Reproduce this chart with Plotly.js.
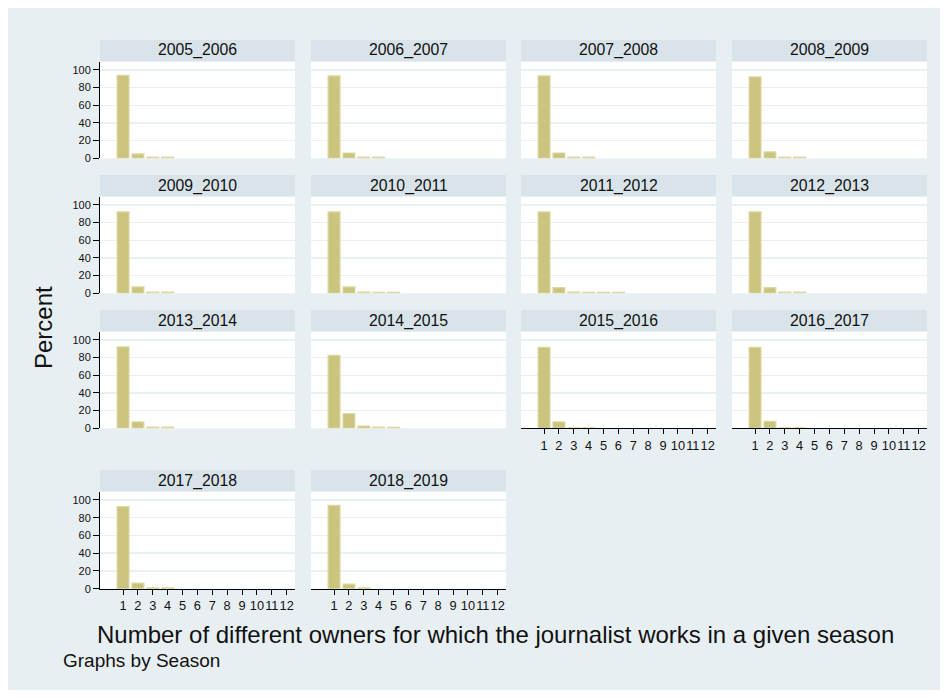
<!DOCTYPE html>
<html>
<head>
<meta charset="utf-8">
<script src="https://cdn.plot.ly/plotly-3.0.1.min.js"></script>
<style>
html,body{margin:0;padding:0;background:#ffffff;width:948px;height:698px;overflow:hidden;}
#chart{position:absolute;left:8px;top:8px;width:932px;height:682px;}
</style>
</head>
<body>
<div id="chart"></div>
<script>
// ---- data (percent of journalists by number of owners, per season) ----
const seasons = ['2005_2006','2006_2007','2007_2008','2008_2009',
                 '2009_2010','2010_2011','2011_2012','2012_2013',
                 '2013_2014','2014_2015','2015_2016','2016_2017',
                 '2017_2018','2018_2019'];
const owners = [1,2,3,4,5,6,7,8,9,10,11,12];
const ownerLabels = ['1','2','3','4','5','6','7','8','9','10','11','12'];
const yTicks = [0,20,40,60,80,100];

const pct_2005_2006 = [94.0, 4.9, 1.3, 1.3];
const pct_2006_2007 = [93.2, 6.0, 1.3, 1.3];
const pct_2007_2008 = [93.2, 6.0, 1.3, 1.3];
const pct_2008_2009 = [92.1, 7.2, 1.3, 1.3];
const pct_2009_2010 = [92.1, 7.2, 1.3, 1.3];
const pct_2010_2011 = [92.1, 7.2, 1.4, 1.2, 1.2];
const pct_2011_2012 = [92.1, 6.4, 1.3, 1.2, 1.2, 1.2];
const pct_2012_2013 = [92.1, 6.4, 1.3, 1.3];
const pct_2013_2014 = [92.1, 7.2, 1.3, 1.3];
const pct_2014_2015 = [82.5, 16.5, 2.6, 1.3, 1.2];
const pct_2015_2016 = [91.7, 7.2, 0.6, 0.6];
const pct_2016_2017 = [91.5, 8.0, 0.6, 0.6];
const pct_2017_2018 = [92.5, 6.3, 0.9, 0.9];
const pct_2018_2019 = [94.0, 5.2, 0.9];

const seriesList = [pct_2005_2006, pct_2006_2007, pct_2007_2008, pct_2008_2009,
                    pct_2009_2010, pct_2010_2011, pct_2011_2012, pct_2012_2013,
                    pct_2013_2014, pct_2014_2015, pct_2015_2016, pct_2016_2017,
                    pct_2017_2018, pct_2018_2019];

// ---- layout geometry (pixels in the 948x698 window) ----
const OX = 8, OY = 8, PW = 932, PH = 682;
const px = v => (v - OX) / PW;
const py = v => 1 - (v - OY) / PH;

const colX = [[100,295],[311,506],[521,716],[732,927]];
const rowY = [[62,158.3],[197,293.3],[332,428.3],[492,588.7]];
const headY = [[40,61],[175,196],[310,331],[470,491]];

const FONT = 'Liberation Sans, Arial, Helvetica, sans-serif';
const barFill = '#cbc47f';
const barLine = '#ddd7a2';
const gridCol = '#e9f0f2';
const bgCol = '#e8eff2';
const headCol = '#d9e4ea';

const traces = [];
const layout = {
  width: PW, height: PH,
  margin: {l:0, r:0, t:0, b:0, pad:0},
  paper_bgcolor: bgCol,
  plot_bgcolor: '#ffffff',
  showlegend: false,
  font: {family: FONT, color: '#111111'},
  shapes: [],
  annotations: [],
  bargap: 0
};

seasons.forEach((s, i) => {
  const r = Math.floor(i / 4), c = i % 4;
  const n = i + 1;
  const xa = 'x' + (n === 1 ? '' : n), ya = 'y' + (n === 1 ? '' : n);
  const vals = seriesList[i];
  traces.push({
    type: 'bar',
    x: owners.slice(0, vals.length),
    y: vals,
    width: 0.8,
    xaxis: xa, yaxis: ya,
    marker: {color: barFill, line: {color: barLine, width: 1.2}},
    hoverinfo: 'x+y'
  });
  const bottom = (c < 2 && r === 3) || (c >= 2 && r === 2);
  const left = c === 0;
  layout['xaxis' + (n === 1 ? '' : n)] = {
    domain: [px(colX[c][0]), px(colX[c][1])],
    anchor: ya,
    range: [-0.55, 12.56],
    tickmode: 'array', tickvals: owners, ticktext: ownerLabels,
    tickangle: 0,
    showticklabels: bottom,
    ticks: bottom ? 'outside' : '',
    ticklen: 5, tickwidth: 1, tickcolor: '#000000',
    showline: bottom, linecolor: '#000000', linewidth: 1,
    showgrid: false, zeroline: false,
    tickfont: {family: FONT, size: 12.8, color: '#111111'},
    fixedrange: true
  };
  layout['yaxis' + (n === 1 ? '' : n)] = {
    domain: [py(rowY[r][1]), py(rowY[r][0])],
    anchor: xa,
    range: [0, 109],
    tickmode: 'array', tickvals: yTicks,
    showticklabels: left,
    ticks: left ? 'outside' : '',
    ticklen: 6, tickwidth: 1, tickcolor: '#000000',
    showline: left, linecolor: '#000000', linewidth: 1,
    showgrid: true, gridcolor: gridCol, gridwidth: 1.5,
    zeroline: false,
    tickfont: {family: FONT, size: 11, color: '#111111'},
    fixedrange: true
  };
  // header strip
  layout.shapes.push({
    type: 'rect', xref: 'paper', yref: 'paper', layer: 'below',
    x0: px(colX[c][0]), x1: px(colX[c][1]),
    y0: py(headY[r][1]), y1: py(headY[r][0]),
    fillcolor: headCol, line: {width: 0}
  });
  layout.annotations.push({
    xref: 'paper', yref: 'paper',
    x: px((colX[c][0] + colX[c][1]) / 2), y: py((headY[r][0] + headY[r][1]) / 2),
    xanchor: 'center', yanchor: 'middle',
    text: s, showarrow: false,
    font: {family: FONT, size: 15.8, color: '#111111'}
  });
});

layout.annotations.push({
  xref: 'paper', yref: 'paper', x: px(495.5), y: py(634),
  xanchor: 'center', yanchor: 'middle', showarrow: false,
  text: 'Number of different owners for which the journalist works in a given season',
  font: {family: FONT, size: 24, color: '#111111'}
});
layout.annotations.push({
  xref: 'paper', yref: 'paper', x: px(61), y: py(660),
  xanchor: 'left', yanchor: 'middle', showarrow: false,
  text: 'Graphs by Season',
  font: {family: FONT, size: 19, color: '#111111'}
});
layout.annotations.push({
  xref: 'paper', yref: 'paper', x: px(43), y: py(328),
  xanchor: 'center', yanchor: 'middle', showarrow: false,
  textangle: -90,
  text: 'Percent',
  font: {family: FONT, size: 24, color: '#111111'}
});

Plotly.newPlot('chart', traces, layout, {displayModeBar: false, staticPlot: true});
</script>
</body>
</html>
